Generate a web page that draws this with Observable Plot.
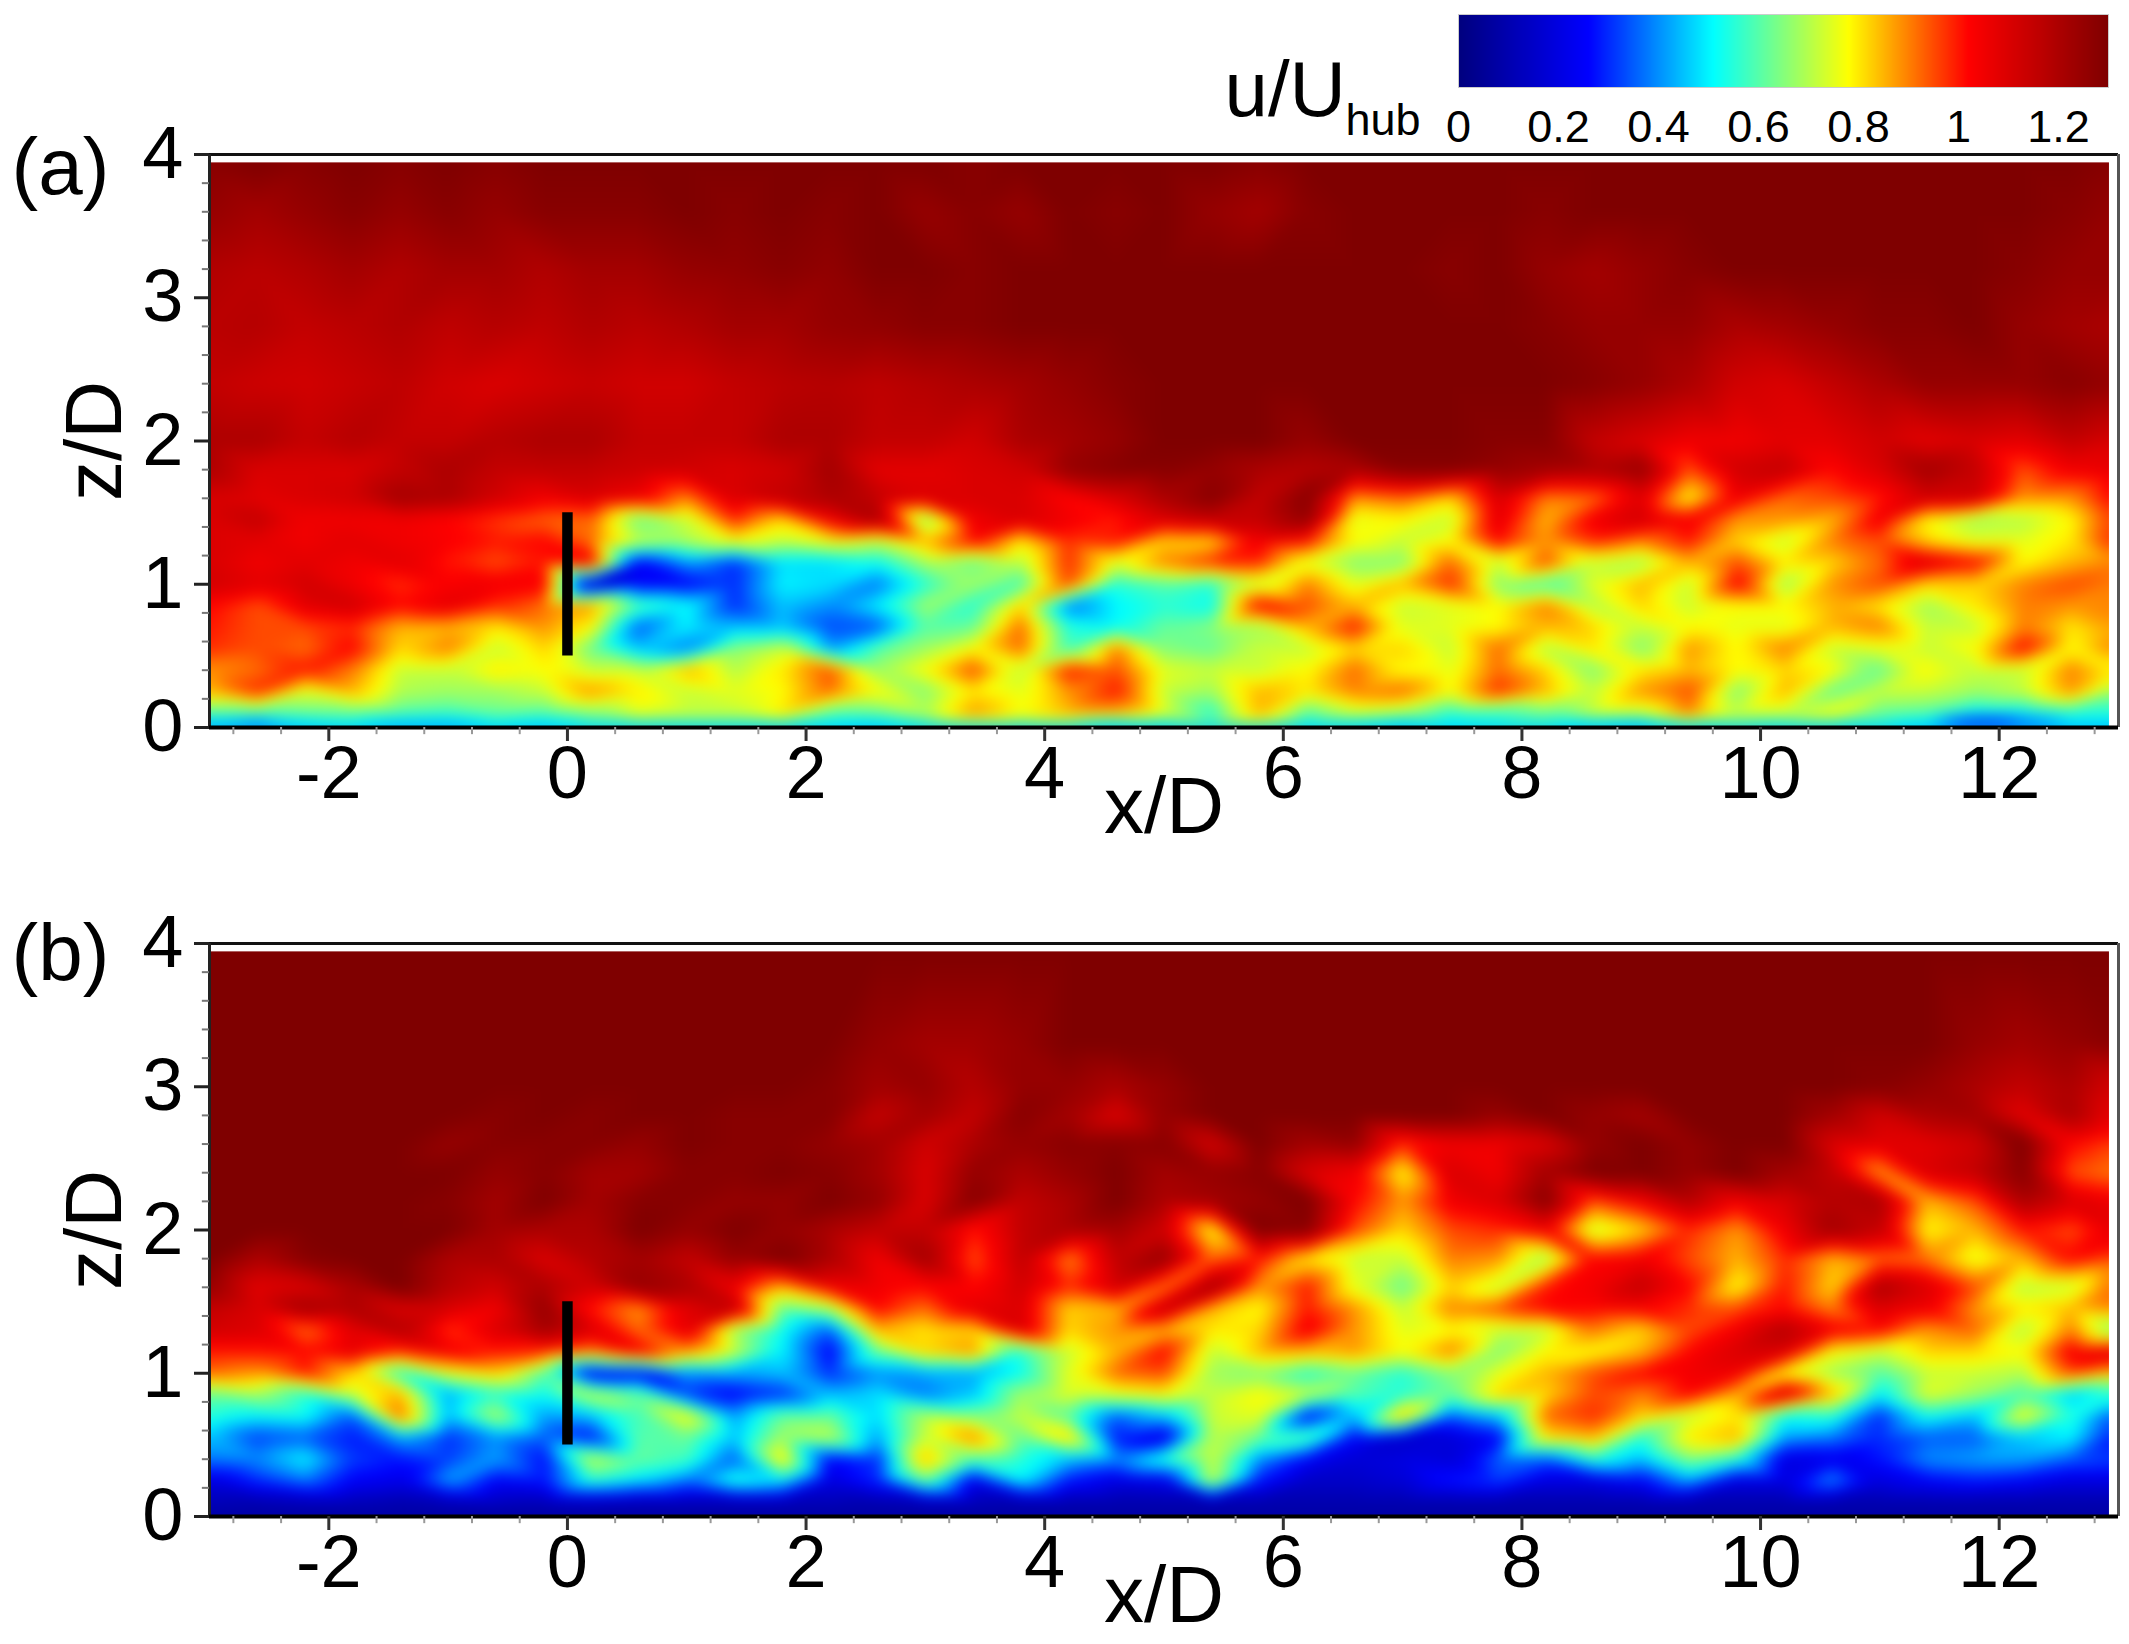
<!DOCTYPE html>
<html><head><meta charset="utf-8">
<script src="https://cdn.jsdelivr.net/npm/d3@7"></script>
<script src="https://cdn.jsdelivr.net/npm/@observablehq/plot@0.6"></script>
<style>html,body{margin:0;background:#fff}#c{position:relative;width:2129px;height:1644px;overflow:hidden}#c>*{position:absolute}</style>
</head><body><div id="c"></div>
<script>
// column positions (x/D) shared by every row below
const xCols = [-3,-2.6,-2.2,-1.8,-1.4,-1,-.6,-.2,.2,.6,1,1.4,1.8,2.2,2.6,3,3.4,3.8,4.2,4.6,5,5.4,5.8,6.2,6.6,7,7.4,7.8,8.2,8.6,9,9.4,9.8,10.2,10.6,11,11.4,11.8,12.2,12.6,13];
// panel (a): u/Uhub along rows of constant z/D
const a002=[.4,.3,.45,.5,.4,.4,.5,.45,.55,.55,.55,.55,.55,.5,.45,.55,.6,.6,.6,.45,.5,.62,.65,.52,.5,.42,.5,.55,.55,.45,.4,.55,.6,.55,.55,.55,.45,.15,.3,.45,.45];
const a010=[.6,.6,.62,.62,.6,.58,.62,.6,.65,.75,.72,.72,.8,.6,.62,.7,.88,.78,.85,.85,.75,.55,.85,.6,.72,.68,.55,.55,.62,.72,.72,.9,.72,.72,.78,.62,.6,.5,.5,.55,.55];
const a025=[.85,.98,.75,.85,.7,.68,.68,.72,.88,.8,.72,.75,.78,.92,.78,.65,.8,.75,.88,1,.72,.68,.85,.8,.9,.92,.78,.98,.85,.72,.88,.95,.65,.85,.62,.72,.72,.68,.72,.88,.65];
const a040=[.88,.92,1,.9,.72,.72,.8,.78,.72,.72,.85,.7,.8,.95,.68,.78,.95,.72,1,.95,.75,.72,.72,.78,.92,.78,.75,.92,.82,.65,.8,.85,.78,.82,.78,.62,.78,.72,.72,.9,.78];
const a055=[.98,.95,.92,1.02,.82,.9,.72,.82,.62,.45,.38,.65,.72,.42,.6,.68,.78,.92,.58,.9,.65,.62,.72,.72,.82,.82,.72,.92,.7,.8,.65,.88,.78,.9,.72,.75,.72,.78,1.02,.78,.92];
const a070=[1,.95,.95,.98,.85,.85,.8,.88,.78,.35,.5,.45,.45,.33,.35,.6,.62,.92,.55,.52,.62,.65,.68,.85,1,.75,.75,.78,.85,.82,.72,.78,.75,.75,.85,.9,.72,.72,.9,.8,.88];
const a085=[1.02,.95,1.08,1.12,1.02,1.08,.98,.92,.88,.6,.52,.3,.45,.4,.5,.68,.55,.82,.38,.5,.55,.52,1.03,.95,.85,.72,.75,.78,.9,.7,.82,.72,.78,.78,.85,.8,.68,.8,.9,.88,.9];
const a100=[1.12,1.08,1.12,1.05,.98,1.03,1.05,1.03,.12,.25,.25,.3,.5,.48,.38,.55,.68,.58,.95,.55,.6,.55,.72,.9,.75,.85,.98,.65,.58,.75,.85,.72,1.03,.68,.88,.95,.82,.82,.9,.95,.9];
const a115=[1.1,1.05,1.08,1.05,1.08,1,.95,1,1.05,.25,.4,.3,.48,.48,.52,.68,.62,.7,.98,.75,.9,.98,.98,.75,.65,.65,.92,.72,.95,.72,.68,.85,.95,.8,.82,.92,1.1,1.02,.78,.85,.9];
const a130=[1.1,1.08,1.05,1.08,1.05,1.03,1,1.02,.92,.72,.7,.78,.72,.78,.72,.85,1.02,.8,.98,1,.82,.82,1.05,1,.78,.72,.78,1.02,.88,.98,.9,1,.82,.72,.9,.95,.82,.75,.75,.8,1.02];
const a145=[1.1,1.15,1.05,1.05,1.05,1.02,.97,.93,.92,.62,.72,.98,.82,1.05,1.2,.65,1.05,1.1,1.05,1,1.1,1.15,1.15,1.25,.75,.78,.72,1.08,.85,1.05,1.12,1.05,.88,.88,.85,1.05,.78,.68,.7,.78,1];
const a160=[1.1,1.08,1.1,1.12,1.22,1.2,1.12,1.05,1.1,1.05,.9,1.1,1.15,1.2,1.15,1.1,1.1,1.1,1.02,1.1,1.2,1.28,1.15,1.28,.88,.92,.82,1.1,.9,.92,1.08,.78,1.05,.92,.95,1,1.12,1.12,.88,.88,1.05];
const a180=[1.2,1.1,1.1,1.1,1.15,1.2,1.15,1.15,1.15,1.13,1.12,1.1,1.12,1.22,1.08,1.08,1.1,1.12,1.25,1.28,1.28,1.25,1.2,1.18,1.2,1.28,1.28,1.25,1.22,1.2,1.25,.95,1.12,1.15,1.02,1.1,1.22,1.15,.95,1.05,1.08];
const a200=[1.2,1.2,1.15,1.18,1.15,1.15,1.18,1.2,1.2,1.15,1.15,1.15,1.2,1.2,1.15,1.15,1.12,1.2,1.22,1.25,1.3,1.3,1.3,1.25,1.3,1.3,1.3,1.28,1.28,1.15,1.1,1.05,1.05,1.08,1.08,1.12,1.08,1.1,1.08,1.15,1.1];
const a240=[1.15,1.13,1.12,1.14,1.16,1.12,1.1,1.12,1.14,1.12,1.12,1.15,1.17,1.18,1.16,1.18,1.2,1.22,1.25,1.28,1.3,1.3,1.3,1.3,1.3,1.3,1.3,1.3,1.3,1.28,1.25,1.2,1.12,1.1,1.15,1.2,1.25,1.25,1.25,1.28,1.25];
const a280=[1.17,1.18,1.15,1.17,1.19,1.16,1.18,1.16,1.19,1.17,1.19,1.22,1.22,1.25,1.26,1.28,1.28,1.3,1.3,1.3,1.3,1.3,1.3,1.3,1.3,1.3,1.3,1.3,1.28,1.25,1.25,1.25,1.2,1.22,1.25,1.28,1.28,1.3,1.25,1.22,1.2];
const a320=[1.19,1.17,1.19,1.22,1.19,1.22,1.22,1.19,1.22,1.22,1.25,1.26,1.28,1.26,1.3,1.3,1.28,1.3,1.3,1.3,1.3,1.3,1.3,1.3,1.3,1.3,1.28,1.3,1.25,1.22,1.25,1.28,1.3,1.3,1.3,1.3,1.3,1.3,1.28,1.25,1.25];
const a360=[1.25,1.22,1.25,1.28,1.25,1.28,1.25,1.28,1.28,1.28,1.3,1.28,1.3,1.28,1.3,1.25,1.28,1.25,1.3,1.28,1.3,1.25,1.22,1.28,1.3,1.3,1.3,1.3,1.28,1.3,1.3,1.3,1.3,1.3,1.3,1.3,1.3,1.3,1.3,1.28,1.25];
const a395=[1.28,1.3,1.28,1.3,1.28,1.3,1.28,1.3,1.3,1.3,1.3,1.3,1.3,1.3,1.3,1.3,1.28,1.3,1.3,1.3,1.3,1.3,1.28,1.3,1.3,1.3,1.3,1.3,1.3,1.3,1.3,1.3,1.3,1.3,1.3,1.3,1.3,1.3,1.3,1.3,1.28];
// panel (b)
const b002=[.08,.08,.08,.08,.08,.08,.08,.08,.08,.08,.08,.08,.08,.08,.08,.08,.08,.08,.08,.08,.08,.08,.08,.08,.08,.08,.08,.08,.08,.08,.08,.08,.08,.08,.08,.08,.08,.08,.08,.08,.08];
const b010=[.12,.1,.12,.12,.1,.12,.14,.12,.14,.12,.12,.12,.12,.12,.1,.12,.12,.1,.1,.1,.1,.1,.1,.1,.1,.1,.1,.1,.1,.1,.1,.1,.1,.1,.1,.1,.1,.1,.1,.1,.1];
const b025=[.2,.3,.38,.25,.22,.42,.25,.28,.55,.48,.38,.55,.5,.2,.3,.62,.22,.5,.28,.2,.22,.72,.28,.15,.15,.18,.28,.32,.2,.2,.25,.42,.2,.2,.4,.2,.25,.28,.25,.2,.2];
const b040=[.38,.4,.5,.32,.28,.32,.42,.27,.72,.62,.58,.35,.8,.25,.3,.85,.6,.55,.45,.4,.55,.72,.4,.25,.18,.2,.18,.35,.35,.55,.45,.65,.55,.2,.22,.28,.4,.42,.42,.35,.32];
const b055=[.45,.32,.35,.28,.42,.3,.4,.35,.27,.6,.62,.45,.68,.72,.42,.72,.9,.62,.82,.28,.2,.7,.62,.6,.25,.15,.18,.25,.8,.85,.55,.8,.85,.42,.38,.3,.35,.35,.45,.5,.25];
const b070=[.55,.5,.52,.35,.92,.45,.7,.42,.45,.58,.78,.42,.62,.62,.48,.7,.65,.72,.6,.35,.45,.72,.75,.25,.45,.85,.35,.45,.92,.98,.82,.72,.8,.52,.55,.3,.52,.45,.78,.55,.3];
const b085=[.62,.68,.55,.72,.85,.42,.55,.52,.72,.62,.32,.25,.3,.45,.48,.38,.45,.68,.75,.75,.78,.72,.78,.72,.6,.55,.62,.82,.82,.95,.9,1.02,.85,1.12,.85,.5,.75,.68,.58,.45,.55];
const b100=[.92,.88,1,.82,.55,.75,.82,.6,.2,.22,.4,.42,.45,.3,.4,.42,.42,.52,.75,.92,.95,.68,.65,.55,.62,.55,.65,.75,.85,.95,1.02,1.05,1.05,.78,.68,.6,.72,.72,.7,.95,.82];
const b115=[1,1,1.02,1.08,.98,1.05,1,.98,.9,1.05,.88,.72,.5,.25,.62,.82,.88,.55,.72,.85,1.02,.72,.85,.85,.88,.78,.9,.65,.78,.78,.85,1.02,1.1,1.1,.78,.72,.82,.82,.78,1.05,1.1];
const b130=[1.12,1.1,.92,1.08,1.18,.98,1.1,1.22,1.1,.92,1.08,.68,.52,.35,.85,.8,.82,1.1,.82,.88,.85,.8,.82,1.05,.88,.75,.78,.72,.72,.9,.82,.95,1.05,1.18,1.05,1.02,.88,.92,.7,.9,.62];
const b145=[1.15,1.1,1.22,1.2,1.1,1.1,1.05,1.25,1,.88,1.08,1.15,.62,.7,1.02,.92,1.08,1.1,.82,.85,1.15,.85,.78,1,.88,.72,.9,.95,1.02,1.02,1.03,.98,.95,1.02,.9,1.1,1.05,.88,.8,.85,.9];
const b160=[1.25,1.08,1.1,1.2,1.3,1.18,1.12,1.2,1.12,1.25,1.2,1.05,.85,1.05,1.05,1.02,1.02,1.12,.98,1.12,.9,1.22,.88,1,.75,.62,.82,.72,1,1.05,1.15,1.02,.78,1,.82,1.2,1.1,.95,.7,.72,.95];
const b180=[1.3,1.2,1.28,1.3,1.3,1.2,1.2,1.1,1.18,1.22,1.15,1.25,1.3,1.2,1.05,1.22,.95,1.15,.9,1.15,1.25,.92,1,.8,.72,.72,.9,.88,.68,1.02,1.05,.95,.85,.98,.85,.92,.9,.75,.85,1.02,.95];
const b200=[1.3,1.3,1.3,1.3,1.3,1.3,1.22,1.2,1.2,1.3,1.25,1.3,1.25,1.2,1.15,1.15,1,1.15,1.2,1.22,1.12,.78,1.3,1.28,.95,.82,.95,.98,1.05,.72,.82,.98,.88,1.05,1.22,1.15,.78,.85,1,.95,1.08];
const b220=[1.3,1.3,1.3,1.3,1.3,1.28,1.22,1.3,1.22,1.28,1.28,1.25,1.25,1.3,1.25,1.1,1.28,1.15,1.2,1.3,1.2,1.22,1.25,1.3,1.02,.88,1.05,1.1,1.28,.95,1.05,1.18,1.05,1.1,1.18,1.2,.85,.95,1.2,1.1,1.05];
const b240=[1.3,1.3,1.3,1.3,1.3,1.3,1.25,1.28,1.22,1.22,1.28,1.28,1.3,1.28,1.22,1.1,1.25,1.2,1.25,1.3,1.22,1.25,1.28,1.1,1.05,.78,1.1,1.05,1.22,1.3,1.3,1.25,1.3,1.22,1.15,.88,1.1,1.15,1.28,.95,.9];
const b260=[1.3,1.3,1.3,1.3,1.3,1.25,1.28,1.28,1.28,1.25,1.3,1.28,1.28,1.25,1.22,1.12,1.2,1.25,1.28,1.28,1.28,1.12,1.3,1.22,1.25,.98,1.05,1.05,1.1,1.25,1.3,1.25,1.3,1.3,1.1,1.08,1.08,1.12,1.3,1.02,.95];
const b280=[1.3,1.3,1.3,1.3,1.3,1.3,1.28,1.3,1.28,1.3,1.3,1.28,1.28,1.28,1.15,1.22,1.15,1.28,1.22,1.1,1.25,1.3,1.3,1.3,1.3,1.3,1.3,1.25,1.3,1.25,1.22,1.3,1.3,1.3,1.22,1.12,1.2,1.22,1.08,1.2,1.05];
const b300=[1.3,1.3,1.3,1.3,1.3,1.3,1.3,1.3,1.3,1.3,1.3,1.3,1.3,1.28,1.22,1.25,1.18,1.25,1.25,1.2,1.25,1.3,1.3,1.3,1.3,1.3,1.3,1.3,1.3,1.3,1.3,1.3,1.3,1.3,1.3,1.28,1.25,1.2,1.15,1.2,1.1];
const b330=[1.3,1.3,1.3,1.3,1.3,1.3,1.3,1.3,1.3,1.3,1.3,1.3,1.3,1.3,1.25,1.22,1.22,1.25,1.3,1.3,1.3,1.3,1.3,1.3,1.3,1.3,1.3,1.3,1.3,1.3,1.3,1.3,1.3,1.3,1.3,1.3,1.3,1.25,1.22,1.25,1.28];
const b395=[1.3,1.3,1.3,1.3,1.3,1.3,1.3,1.3,1.3,1.3,1.3,1.3,1.3,1.3,1.3,1.3,1.3,1.3,1.3,1.3,1.3,1.3,1.3,1.3,1.3,1.3,1.3,1.3,1.3,1.3,1.3,1.3,1.3,1.3,1.3,1.3,1.3,1.3,1.3,1.3,1.3];

const zA=[.02,.1,.25,.4,.55,.7,.85,1,1.15,1.3,1.45,1.6,1.8,2,2.4,2.8,3.2,3.6,3.95];
const rowsA=[a002,a010,a025,a040,a055,a070,a085,a100,a115,a130,a145,a160,a180,a200,a240,a280,a320,a360,a395];
const zB=[.02,.1,.25,.4,.55,.7,.85,1,1.15,1.3,1.45,1.6,1.8,2,2.2,2.4,2.6,2.8,3,3.3,3.95];
const rowsB=[b002,b010,b025,b040,b055,b070,b085,b100,b115,b130,b145,b160,b180,b200,b220,b240,b260,b280,b300,b330,b395];

const turbineX=[0], turbineBottom=.5, turbineTop=1.5;
const xMajor=[-2,0,2,4,6,8,10,12];
const yMajor=[0,1,2,3,4];
const xMinor=d3.range(-2.8,13,.4).map(d=>+d.toFixed(1)).filter(d=>!xMajor.includes(d));
const yMinor=d3.range(0,4.01,.2).map(d=>+d.toFixed(1)).filter(d=>!yMajor.includes(d));
const barTicks=[0,.2,.4,.6,.8,1,1.2];
const colorDomain=[0,.26,.51,.645,.78,1.02,1.3];
const colorRange=["#00007f","#0000ff","#00ffff","#80ff80","#ffff00","#ff0000","#7f0000"];
const colorScale={type:"linear",domain:colorDomain,range:colorRange,clamp:true};
const font="'Liberation Sans',Arial,sans-serif";

function tidy(zs,rows){const out=[];rows.forEach((r,j)=>r.forEach((u,i)=>out.push({x:xCols[i],z:zs[j],u})));return out;}

function panel(zs,rows,tag,top,height,mt,mb,tagDy){
  const p=Plot.plot({
    width:2129,height,marginLeft:209,marginRight:11,marginTop:mt,marginBottom:mb,
    style:{fontFamily:font,fontSize:"74px",background:"transparent",color:"#000",overflow:"visible"},
    x:{domain:[-3,13],axis:null},y:{domain:[0,4],axis:null},color:colorScale,
    marks:[
      Plot.raster(tidy(zs,rows),{x:"x",y:"z",fill:"u",x1:-3,x2:12.92,y1:0,y2:3.945,interpolate:"barycentric",blur:6}),
      Plot.ruleY([4],{stroke:"#111",strokeWidth:3}),
      Plot.ruleX([13],{stroke:"#555",strokeWidth:3}),
      Plot.ruleX([-3],{stroke:"#222",strokeWidth:3}),
      Plot.ruleY([0],{stroke:"#000",strokeWidth:4}),
      Plot.ruleX(turbineX,{y1:turbineBottom,y2:turbineTop,stroke:"#000",strokeWidth:10.5}),
      Plot.ruleY(yMinor,{x1:-3,x2:-3.06,stroke:"#777",strokeWidth:2}),
      Plot.ruleX(xMinor,{y1:0,y2:-.05,stroke:"#999",strokeWidth:2}),
      Plot.axisY({ticks:yMajor,tickSize:15,tickPadding:11,tickFormat:d=>String(d),stroke:"#222",strokeWidth:3,label:null,fontSize:74}),
      Plot.axisX({ticks:xMajor,tickSize:14,tickPadding:4,tickFormat:d=>String(d),stroke:"#333",strokeWidth:3,label:null,fontSize:74}),
      Plot.text(["x/D"],{frameAnchor:"bottom",dy:105,lineAnchor:"bottom",fontSize:80}),
      Plot.text(["z/D"],{frameAnchor:"left",dx:-114,rotate:-90,textAnchor:"middle",fontSize:80}),
      Plot.text([tag],{frameAnchor:"top-left",dx:-198,dy:tagDy,textAnchor:"start",fontSize:80})
    ]
  });
  p.style.left="0";p.style.top=top+"px";
  return p;
}

const c=document.getElementById("c");
c.append(panel(zA,rowsA,"(a)",0,850,154,123,-17));
c.append(panel(zB,rowsB,"(b)",850,794,93,128,-20));

const bar=Plot.plot({
  width:929,height:150,marginLeft:258,marginRight:21,marginTop:14,marginBottom:63,
  style:{fontFamily:font,background:"transparent",color:"#000",overflow:"visible"},
  x:{domain:[0,1.3],axis:null},y:{domain:[0,1],axis:null},color:colorScale,
  marks:[
    Plot.raster({fill:(x,y)=>x,x1:0,x2:1.3,y1:0,y2:1}),
    Plot.frame({stroke:"#ccc",strokeWidth:1}),
    Plot.axisX({ticks:barTicks,tickSize:0,tickPadding:23,tickFormat:d=>String(d),label:null,fontSize:45}),
    Plot.text(["u/U"],{frameAnchor:"bottom-left",dx:-234,dy:28,textAnchor:"start",lineAnchor:"bottom",fontSize:78}),
    Plot.text(["hub"],{frameAnchor:"bottom-left",dx:-113,dy:47,textAnchor:"start",lineAnchor:"bottom",fontSize:45})
  ]
});
bar.style.left="1200px";bar.style.top="0";
c.append(bar);
</script></body></html>
